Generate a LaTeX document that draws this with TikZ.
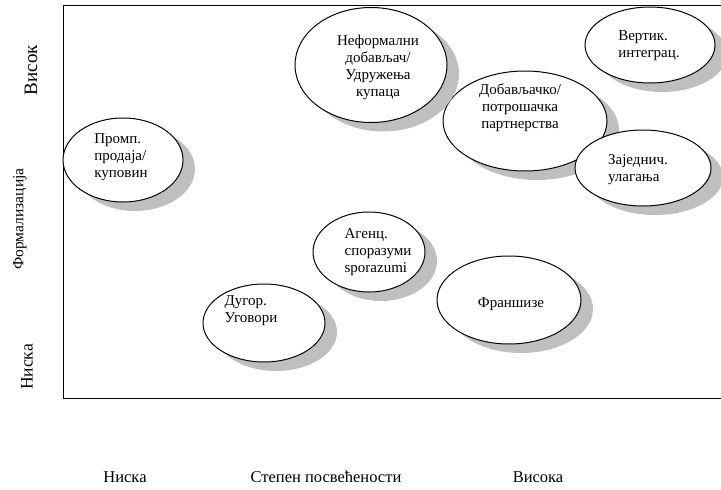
\documentclass[tikz,border=0pt]{standalone}
\usepackage{fontspec}
\setmainfont{Liberation Serif}
\usetikzlibrary{shapes.geometric,shadows}

\begin{document}
\begin{tikzpicture}[x=1pt,y=-1pt,
	oval/.style={ellipse,draw,line width=1pt,fill=white,inner sep=0pt,
		drop shadow={shadow xshift=12pt,shadow yshift=-9pt,fill=black!25,opacity=1}},
	txt/.style={font=\fontsize{15}{17}\selectfont,align=left,inner sep=0pt},
	axislabel/.style={font=\fontsize{16.5}{18}\selectfont,inner sep=0pt}]
	\useasboundingbox (0,0) rectangle (721,490);
	% frame
	\coordinate (tr) at (730,5);
	\coordinate (tl) at (63,5);
	\coordinate (bl) at (63,398);
	\coordinate (br) at (730,398);
	\draw[line width=1pt] (tr)--(tl)--(bl)--(br);
	% ovals
	\node[oval,minimum width=164pt,minimum height=100pt] (dob) at (525,121) {};
	\node[oval,minimum width=152pt,minimum height=115pt] (nef) at (371,65) {};
	\node[oval,minimum width=130pt,minimum height=76pt] (ver) at (650,45) {};
	\node[oval,minimum width=136pt,minimum height=76pt] (zaj) at (643,168) {};
	\node[oval,minimum width=120pt,minimum height=84pt] (pro) at (123,160) {};
	\node[oval,minimum width=112pt,minimum height=80pt] (age) at (369,252) {};
	\node[oval,minimum width=122pt,minimum height=78pt] (dug) at (264,323) {};
	\node[oval,minimum width=144pt,minimum height=88pt] (fra) at (509,300) {};
	% texts
	\node[txt,align=center] (nefT) at (378,67) {Неформални\\добављач/\\Удружења\\купаца};
	\node[txt,align=center] (dobT) at (520,108) {Добављачко/\\потрошачка\\партнерства};
	\node[txt] (verT) at (649,46) {Вертик.\\интеграц.};
	\node[txt] (zajT) at (638,170) {Заједнич.\\улагања};
	\node[txt] (proT) at (121,157) {Промп.\\продаја/\\куповин};
	\node[txt] (ageT) at (378,252) {Агенц.\\споразуми\\sporazumi};
	\node[txt] (dugT) at (251,311) {Дугор.\\Уговори};
	\node[txt] (fraT) at (511,304) {Франшизе};
	% axis labels
	\node[axislabel,rotate=90,font=\fontsize{19}{20}\selectfont] (hiY) at (31,70) {Висок};
	\node[axislabel,rotate=90,font=\fontsize{15.5}{17}\selectfont] (midY) at (20,219) {Формализација};
	\node[axislabel,rotate=90,font=\fontsize{17.5}{19}\selectfont] (loY) at (27,367) {Ниска};
	\node[axislabel] (loX) at (125,477) {Ниска};
	\node[axislabel] (midX) at (326,477) {Степен посвећености};
	\node[axislabel] (hiX) at (538,477) {Висока};
\end{tikzpicture}
\end{document}
